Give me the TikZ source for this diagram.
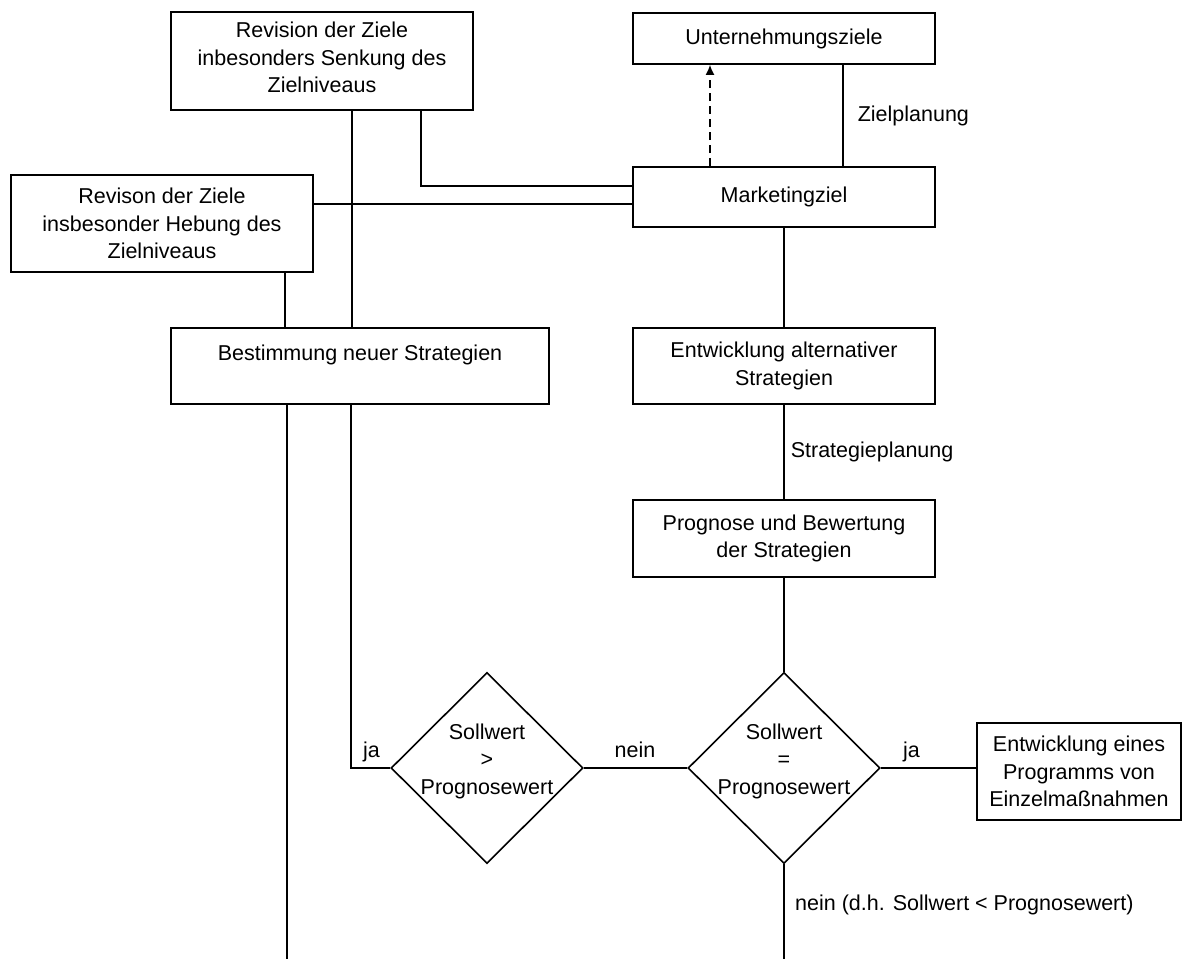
\documentclass[tikz,border=0pt]{standalone}
\usepackage{fontspec}
\setmainfont{Liberation Sans}
\usetikzlibrary{shapes.geometric,arrows.meta}
% decision text: zero width so the diamond keeps its fixed size
\newcommand{\dectext}[1]{\makebox[0pt]{\begin{tabular}{@{}c@{}}#1\\[-13.5pt]\mbox{}\end{tabular}}}
\begin{document}
\begin{tikzpicture}[x=1pt,y=-1pt,
  every node/.style={font=\fontsize{21.5}{27.5}\selectfont},
  box/.style={draw,line width=1.6pt,rectangle,align=center,inner sep=0pt},
  decision/.style={draw,line width=1.6pt,diamond,inner sep=0pt,
    minimum width=192pt,minimum height=191pt},
  conn/.style={line width=1.6pt},
  lbl/.style={inner sep=0pt,anchor=west}]
\useasboundingbox (0,0) rectangle (1184,959);

% boxes
\node[box,minimum width=302pt,minimum height=98pt] (senk) at (322,61)
  {Revision der Ziele\\inbesonders Senkung des\\Zielniveaus\\[-20pt]\mbox{}};
\node[box,minimum width=302pt,minimum height=51pt] (uz) at (784,38.5)
  {Unternehmungsziele};
\node[box,minimum width=302pt,minimum height=60pt] (mz) at (784,197)
  {Marketingziel};
\node[box,minimum width=302pt,minimum height=97pt] (heb) at (162,223.5)
  {Revison der Ziele\\insbesonder Hebung des\\Zielniveaus};
\node[box,minimum width=378pt,minimum height=76pt] (neu) at (360,366)
  {Bestimmung neuer Strategien\\\mbox{}};
\node[box,minimum width=302pt,minimum height=76pt] (alt) at (784,366)
  {Entwicklung alternativer\\Strategien};
\node[box,minimum width=302pt,minimum height=77pt] (prog) at (784,538.5)
  {Prognose und Bewertung\\der Strategien};
\node[decision] (gt) at (487,768) {\dectext{Sollwert\\>\\Prognosewert}};
\node[decision] (eq) at (784,768) {\dectext{Sollwert\\=\\Prognosewert}};
\node[box,minimum width=204pt,minimum height=97pt] (prg) at (1079,771.5)
  {Entwicklung eines\\Programms von\\Einzelmaßnahmen};

% free ends at the lower edge
\coordinate (endL) at (287,959);
\coordinate (endR) at (784,959);

% connectors
\draw[conn] (uz.south -| 843,0) -- (mz.north -| 843,0)
  node[lbl,pos=0.5,xshift=14pt] {Zielplanung};
\draw[line width=1.6pt,dashed,dash pattern=on 8pt off 5pt,-{Latex[length=10pt,width=9pt]}]
  (mz.north -| 710,0) -- (uz.south -| 710,0);
\draw[conn] (senk.south -| 421,0) |- (mz.west |- 0,186);
\draw[conn] (heb.east |- 0,204) -- (mz.west |- 0,204);
\draw[conn] (senk.south -| 352,0) -- (neu.north -| 352,0);
\draw[conn] (heb.south -| 285,0) -- (neu.north -| 285,0);
\draw[conn] (mz.south) -- (alt.north);
\draw[conn] (alt.south) -- (prog.north)
  node[lbl,pos=0.5,xshift=6pt] {Strategieplanung};
\draw[conn] (prog.south) -- (eq.north);
\draw[conn] (neu.south -| 351,0) |- (gt.west);
\node[lbl,anchor=base west] (ja1) at (363,757) {ja};
\draw[conn] (neu.south -| 287,0) -- (endL);
\draw[conn] (gt.east) -- (eq.west);
\node[inner sep=0pt,anchor=base] (nein1) at (635,757) {nein};
\draw[conn] (eq.east) -- (eq.east -| prg.west);
\node[lbl,anchor=base west] (ja2) at (903,757) {ja};
\draw[conn] (eq.south) -- (endR);
\node[lbl,anchor=base west] (nein2) at (795,910) {nein (d.h. Sollwert < Prognosewert)};
\end{tikzpicture}
\end{document}
